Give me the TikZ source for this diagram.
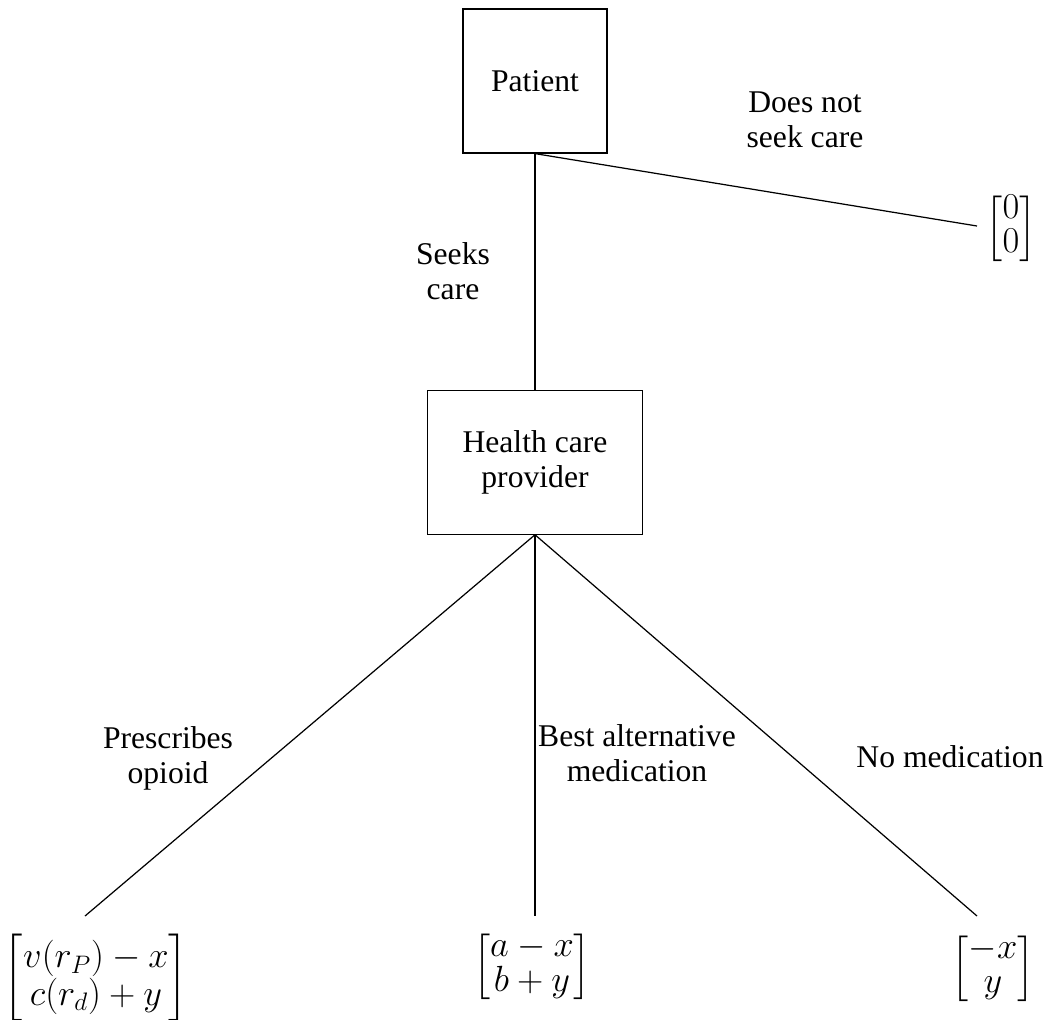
\documentclass[tikz,border=0pt]{standalone}
\usepackage{amsmath}
\usepackage{fontspec}
\setmainfont{Liberation Serif}
\usetikzlibrary{positioning}

\begin{document}
\begin{tikzpicture}[
        x=0.02cm, y=-0.02cm,
        every node/.style={align=center, font=\fontsize{18}{20}\selectfont},
        player/.style={draw, line width=0.7pt, minimum height=2.88cm},
        act/.style={inner sep=0pt},
        payoff/.style={inner sep=0pt, font=\fontsize{21}{19.5}\selectfont},
        link/.style={line width=0.7pt}
    ]
    \useasboundingbox (0,0) rectangle (1052,1019);

    % Players
    \node[player, minimum width=2.88cm] (patient) at (535,81) {Patient};
    \node[player, minimum width=4.3cm, below=4.72cm of patient] (hcp) {Health care\\provider};

    % Branch ends
    \coordinate (endno) at (977,226);
    \coordinate (endop) at (85,916);
    \coordinate (endalt) at (hcp.south |- endop);
    \coordinate (endnone) at (977,916);

    % Patient's choice
    \draw[link] (patient.south) -- (hcp);
    \draw[link] (patient.south) -- (endno);
    \node[act] (lbno) at (805,120) {Does not\\seek care};
    \node[act] (lbseek) at (453,271) {Seeks\\care};

    % Provider's choice
    \draw[link] (hcp.south) -- (endop);
    \draw[link] (hcp.south) -- (endalt);
    \draw[link] (hcp.south) -- (endnone);
    \node[act] (lbop) at (168,758) {Prescribes\\opioid};
    \node[act] (lbalt) at (637,753) {Best alternative\\medication};
    \node[act] (lbnone) at (950,757) {No medication};

    % Payoffs
    \node[payoff, right=0.16cm of endno, yshift=-0.06cm] (payno) {$\begin{bmatrix} 0\\ 0 \end{bmatrix}$};
    \node[payoff, below=0.36cm of endop, xshift=0.22cm] (payop) {$\begin{bmatrix} v(r_P)-x\\ c(r_d)+y \end{bmatrix}$};
    \node[payoff, below=0.32cm of endalt, xshift=-0.06cm] (payalt) {$\begin{bmatrix} a-x\\ b+y \end{bmatrix}$};
    \node[payoff, below=0.36cm of endnone, xshift=0.32cm] (paynone) {$\begin{bmatrix} -x\\ y \end{bmatrix}$};

\end{tikzpicture}
\end{document}
